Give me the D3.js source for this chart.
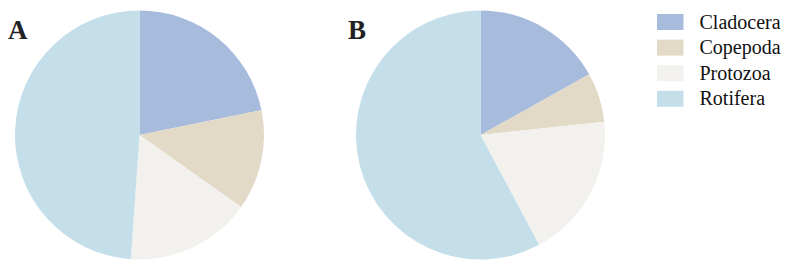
<!DOCTYPE html>
<html><head><meta charset="utf-8">
<script src="https://cdn.jsdelivr.net/npm/d3@7"></script>
<style>body{margin:0;background:#fff}</style>
</head><body>
<svg id="c" width="786" height="267"></svg>
<script>
const categories = ["Cladocera", "Copepoda", "Protozoa", "Rotifera"];
const colors = ["#a7bcdc", "#e2d9c7", "#f2f1ed", "#c5dfea"];
const panelLabels = ["A", "B"];
const valuesA = [21.8, 13.0, 16.3, 48.9];
const valuesB = [16.9, 6.4, 18.9, 57.8];

const svg = d3.select("#c");
const color = d3.scaleOrdinal().domain(categories).range(colors);
const pie = d3.pie().sort(null).value(d => d.v);
const arc = d3.arc().innerRadius(0).outerRadius(124.5);
const serif = "'Liberation Serif', 'Times New Roman', serif";

const panels = [
  {label: panelLabels[0], vals: valuesA, cx: 139.5, lx: 8},
  {label: panelLabels[1], vals: valuesB, cx: 480.5, lx: 348}
];
panels.forEach(p => {
  const data = categories.map((c, i) => ({c, v: p.vals[i]}));
  const g = svg.append("g").attr("transform", `translate(${p.cx},135)`);
  g.selectAll("path").data(pie(data)).join("path")
    .attr("d", arc).attr("fill", d => color(d.data.c));
  svg.append("text").attr("x", p.lx).attr("y", 39)
    .style("font-family", serif)
    .attr("font-weight", "bold").attr("font-size", 27).attr("fill", "#222")
    .text(p.label);
});

const leg = svg.append("g").attr("transform", "translate(657,14)");
categories.forEach((c, i) => {
  const r = leg.append("g").attr("transform", `translate(0,${i * 25.6})`);
  r.append("rect").attr("width", 26.5).attr("height", 16).attr("fill", color(c));
  r.append("text").attr("x", 42.5).attr("y", 14.5)
    .style("font-family", serif)
    .attr("font-size", 20).attr("fill", "#111").text(c);
});
</script>
</body></html>
